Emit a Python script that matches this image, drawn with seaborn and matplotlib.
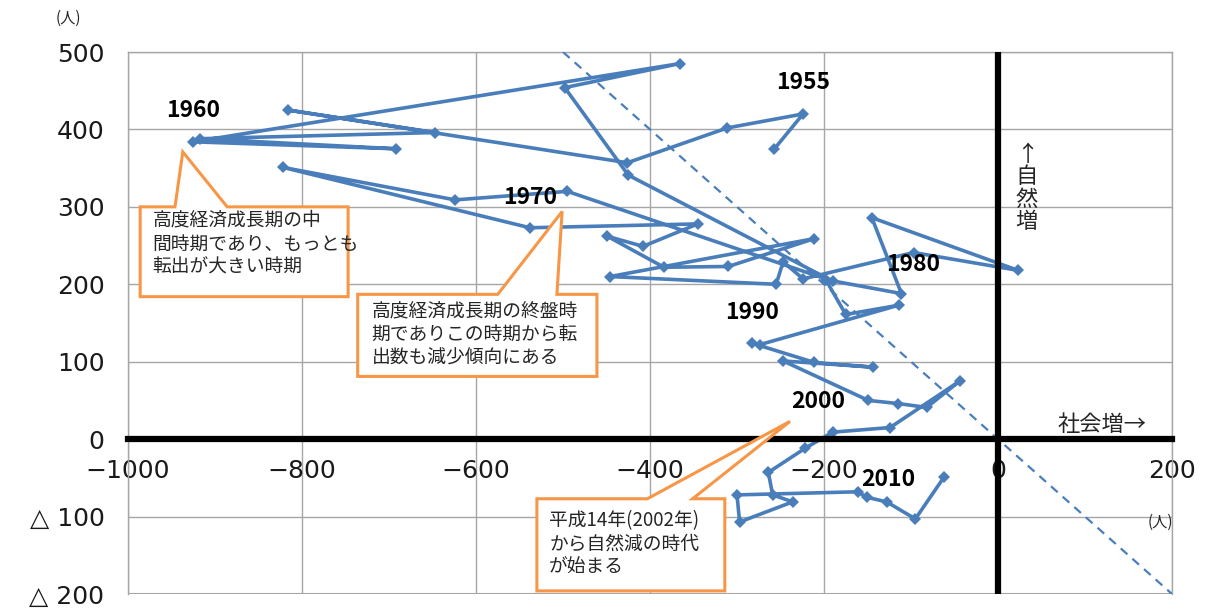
import pandas as pd
import matplotlib.pyplot as plt
import seaborn as sns
from matplotlib.patches import Polygon

# 社会増減（横軸）と自然増減（縦軸）、年順
social = [-257, -224, -311, -426, -816, -647, -917, -692, -925, -366,
          -498, -425, -190, -495, -624, -822, -538, -345, -408, -449,
          -384, -310, -211, -446, -255, -247, -224, -97, 23, -145,
          -111, -198, -175, -114, -274, -283, -211, -144, -247, -149,
          -115, -82, -44, -124, -190, -222, -264, -259, -236, -297,
          -300, -161, -151, -128, -95, -62]
natural = [375, 420, 402, 357, 425, 396, 388, 375, 384, 485,
           454, 341, 204, 320, 309, 351, 273, 278, 249, 262,
           222, 223, 259, 210, 200, 229, 207, 241, 218, 286,
           188, 206, 161, 173, 122, 124, 99, 93, 101, 50,
           46, 41, 75, 15, 9, -12, -43, -72, -81, -107,
           -72, -68, -75, -81, -103, -49]

year_labels = ['1955', '1960', '1970', '1980', '1990', '2000', '2010']
year_x = [-224, -925, -538, -98, -283, -207, -126]
year_y = [460, 425, 312, 226, 164, 48, -52]

x_ticks = [-1000, -800, -600, -400, -200, 0, 200]
x_labels = ['−1000', '−800', '−600', '−400', '−200', '0', '200']
y_ticks = [-200, -100, 0, 100, 200, 300, 400, 500]
y_labels = ['△ 200', '△ 100', '0', '100', '200', '300', '400', '500']

df = pd.DataFrame({'社会増減': social, '自然増減': natural})

sns.set_theme(style='white')
plt.rcParams['font.family'] = ['Noto Sans CJK JP', 'DejaVu Sans']

blue = '#4A7EBB'
orange = '#F79646'
grid_c = '#A6A6A6'

fig = plt.figure(figsize=(12.09, 6.10), dpi=100)
ax = fig.add_axes([128 / 1209, 16 / 610, 1044 / 1209, 542 / 610])

sns.lineplot(data=df, x='社会増減', y='自然増減', sort=False, estimator=None,
             color=blue, lw=2.6, marker='D', markersize=6.5,
             markeredgewidth=0, ax=ax, zorder=4)

# 人口増減ゼロの線
ax.axline((0, 0), slope=-1, color=blue, lw=1.6, ls=(0, (4, 3)), zorder=3)

# 横軸は y=0 の位置に
for s in ['left', 'right', 'top']:
    ax.spines[s].set_color(grid_c)
    ax.spines[s].set_linewidth(1)
ax.spines['bottom'].set_position(('data', 0))
ax.spines['bottom'].set_color('black')
ax.spines['bottom'].set_linewidth(4.5)
ax.spines['bottom'].set_zorder(5)

ax.set_xlim(-1000, 200)
ax.set_ylim(-200, 500)
ax.set_xticks(x_ticks)
ax.set_xticklabels(x_labels)
ax.set_yticks(y_ticks)
ax.set_yticklabels(y_labels)
ax.tick_params(axis='both', length=0, labelsize=18, labelcolor='#1a1a1a',
               labelfontfamily='DejaVu Sans')
ax.tick_params(axis='x', pad=14)
ax.tick_params(axis='y', pad=17)
ax.grid(True, color=grid_c, lw=1)
ax.set_xlabel('')
ax.set_ylabel('')

ax.axhline(-200, color=grid_c, lw=1.5)
ax.axvline(0, color='black', lw=4.5, zorder=5)

for t, x, y in zip(year_labels, year_x, year_y):
    ax.text(x, y, t, ha='center', va='center', fontsize=16.5,
            fontweight='bold', color='black', zorder=6)

ax.text(33, 382, '↑\n自\n然\n増', ha='center', va='top', fontsize=16,
        linespacing=0.95, zorder=6)
ax.text(68, 19, '社会増→', ha='left', va='center', fontsize=16, zorder=6)
fig.text(68 / 1209, 1 - 18 / 610, '(人)', ha='center', va='center', fontsize=11)
fig.text(1160 / 1209, 1 - 522 / 610, '(人)', ha='center', va='center', fontsize=11)

# 吹き出し
callouts = [
    ((-986, -747, 300, 184), (-946, -886), (-937, 371),
     '高度経済成長期の中\n間時期であり、もっとも\n転出が大きい時期', (-972, 296)),
    ((-736, -461, 187, 81), (-575, -507), (-501, 294),
     '高度経済成長期の終盤時\n期でありこの時期から転\n出数も減少傾向にある', (-720, 178)),
    ((-530, -314, -77, -196), (-403, -351), (-239, 23),
     '平成14年(2002年)\nから自然減の時代\nが始まる', (-516, -92)),
]
for (l, r, top, bot), (b1, b2), apex, txt, pos in callouts:
    pts = [(l, top), (b1, top), apex, (b2, top), (r, top), (r, bot), (l, bot)]
    ax.add_patch(Polygon(pts, closed=True, facecolor='white', edgecolor=orange,
                         lw=2.2, zorder=7, clip_on=False))
    ax.text(pos[0], pos[1], txt, ha='left', va='top', fontsize=13.5,
            linespacing=1.15, zorder=8)

fig.savefig('out.png', dpi=100)
